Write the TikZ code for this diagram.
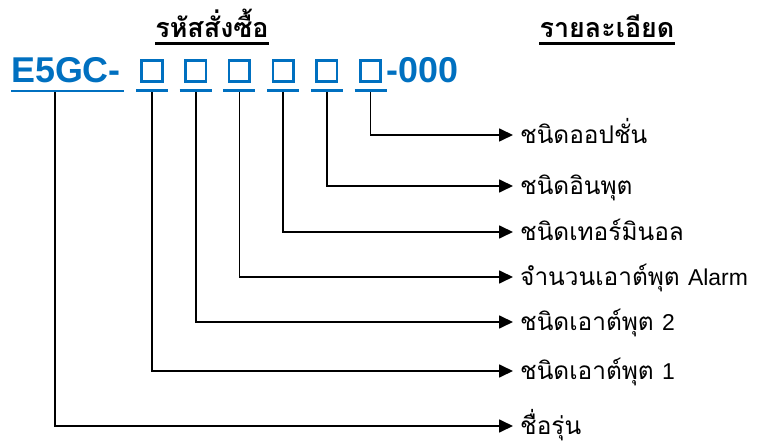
\documentclass[tikz,border=0pt]{standalone}
\usepackage{fontspec}
\newfontfamily\thaifont[Script=Thai]{Loma}
\newfontfamily\arialfont{Liberation Sans}
\usetikzlibrary{positioning,arrows.meta}
\definecolor{codeblue}{RGB}{0,112,192}
\tikzset{
	codebox/.style={draw=codeblue,line width=2.6bp,minimum width=20.5bp,minimum height=20.5bp,inner sep=0pt},
	uline/.style={line width=2.6bp},
	lbl/.style={anchor=west,inner xsep=7bp,inner ysep=0pt,text height=17bp,text depth=0pt,font=\thaifont\fontsize{24.5}{28}\selectfont},
	head/.style={anchor=base,inner sep=0pt,text depth=5.5bp,font=\thaifont\bfseries\fontsize{27}{30}\selectfont},
	conn/.style={line width=1.7bp,-{Triangle[length=14bp,width=13bp]}},
}
\newcommand{\latin}[1]{{\arialfont\fontsize{23}{27}\selectfont #1}}
\begin{document}
\begin{tikzpicture}[x=1bp,y=-1bp]
	\useasboundingbox (0,0) rectangle (757,444);
	
	\node[head] (h1) at (212,38) {รหัสสั่งซื้อ};
	\node[head] (h2) at (607,38) {รายละเอียด};
	\draw[uline] (h1.south west)--(h1.south east);
	\draw[uline] (h2.south west)--(h2.south east);
	
	\node[anchor=base west,inner sep=0pt,text depth=8bp,text=codeblue,font=\arialfont\bfseries\fontsize{36}{40}\selectfont] (code) at (11,83) {E5GC-};
	\draw[uline,codeblue] (code.south west)--([xshift=3bp]code.south east);
	
	\node[codebox] (b1) at (152,71) {};
	\node[codebox,right=20.6bp of b1] (b2) {};
	\node[codebox,right=20.6bp of b2] (b3) {};
	\node[codebox,right=20.6bp of b3] (b4) {};
	\node[codebox,right=20.6bp of b4] (b5) {};
	\node[codebox,right=20.6bp of b5] (b6) {};
	
	\node[anchor=base west,inner sep=0pt,text=codeblue,font=\arialfont\bfseries\fontsize{36}{40}\selectfont] (tail) at (386,83) {-000};
	
	\coordinate (u0) at (55,92);
	\foreach \i in {1,...,6}{
		\coordinate[below=8bp of b\i] (u\i);
		\draw[uline,codeblue] ([xshift=-16bp]u\i)--([xshift=16bp]u\i);
	}
	
	\node[lbl] (l1) at (513,135) {ชนิดออปชั่น};
	\node[lbl] (l2) at (513,186) {ชนิดอินพุต};
	\node[lbl] (l3) at (513,232) {ชนิดเทอร์มินอล};
	\node[lbl] (l4) at (513,277) {จำนวนเอาต์พุต \latin{Alarm}};
	\node[lbl] (l5) at (513,322) {ชนิดเอาต์พุต \latin{2}};
	\node[lbl] (l6) at (513,371) {ชนิดเอาต์พุต \latin{1}};
	\node[lbl] (l7) at (513,426) {ชื่อรุ่น};
	
	\draw[conn] ([yshift=-1.3bp]u6) |- (l1.west);
	\draw[conn] ([yshift=-1.3bp]u5) |- (l2.west);
	\draw[conn] ([yshift=-1.3bp]u4) |- (l3.west);
	\draw[conn] ([yshift=-1.3bp]u3) |- (l4.west);
	\draw[conn] ([yshift=-1.3bp]u2) |- (l5.west);
	\draw[conn] ([yshift=-1.3bp]u1) |- (l6.west);
	\draw[conn] (u0) |- (l7.west);
\end{tikzpicture}
\end{document}
